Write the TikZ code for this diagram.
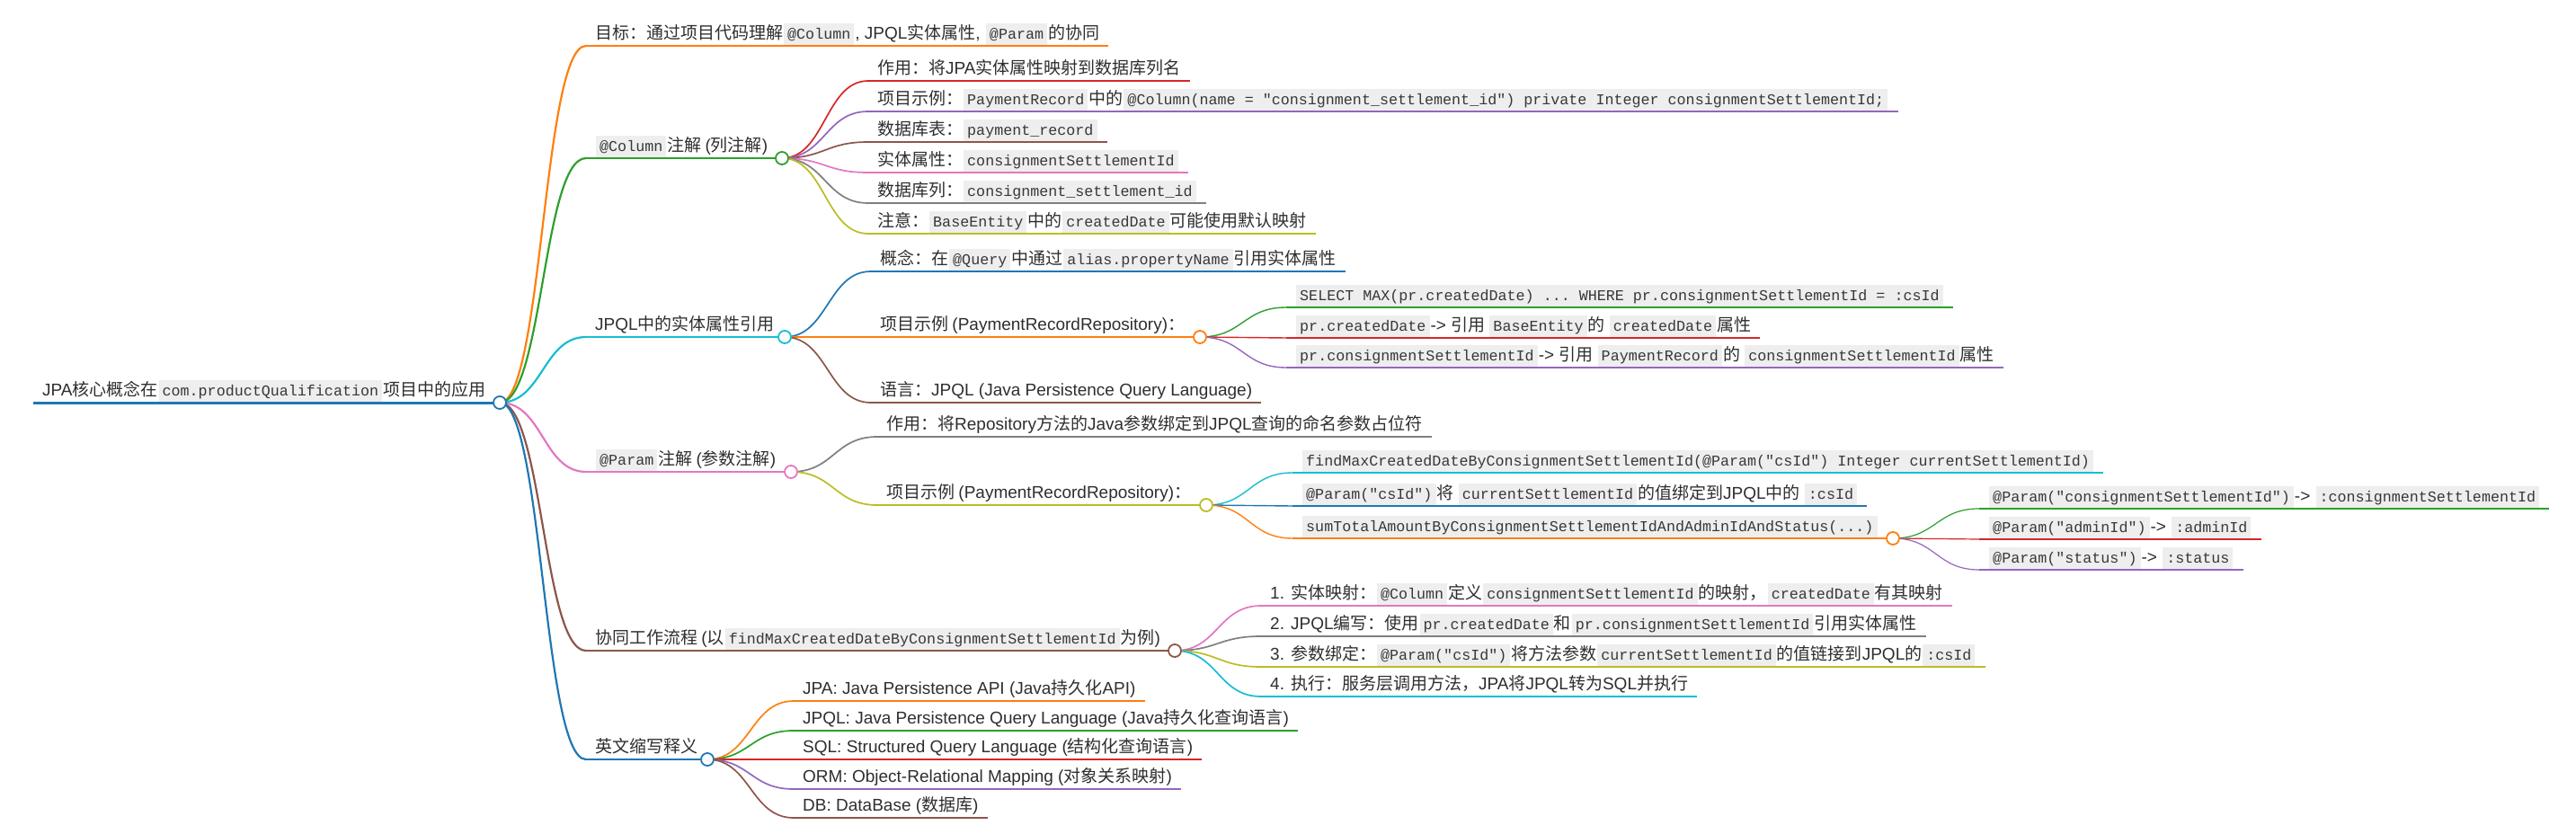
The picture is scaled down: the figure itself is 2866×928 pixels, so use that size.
\documentclass[tikz,border=0pt]{standalone}
\usepackage{fontspec}
\setmainfont{Liberation Sans}
\setmonofont{Liberation Mono}
\newfontfamily\cjk{Noto Sans CJK SC}
\usetikzlibrary{calc}

\definecolor{mBlue}{HTML}{1F77B4}
\definecolor{mOrange}{HTML}{FF7F0E}
\definecolor{mGreen}{HTML}{2CA02C}
\definecolor{mRed}{HTML}{D62728}
\definecolor{mPurple}{HTML}{9467BD}
\definecolor{mBrown}{HTML}{8C564B}
\definecolor{mPink}{HTML}{E377C2}
\definecolor{mGray}{HTML}{7F7F7F}
\definecolor{mOlive}{HTML}{BCBD22}
\definecolor{mCyan}{HTML}{17BECF}
\definecolor{textc}{HTML}{2E2E2E}
\definecolor{codebg}{HTML}{EEEEEE}
\definecolor{codefg}{HTML}{383838}

% chinese runs switch to the CJK font by themselves
\newXeTeXintercharclass\zhclass
\newcount\zhc
\def\zhrange#1#2{\zhc=#1\relax\loop\XeTeXcharclass\zhc=\zhclass\ifnum\zhc<#2\relax\advance\zhc by 1\repeat}
\zhrange{"3000}{"303F}
\zhrange{"4E00}{"9FFF}
\zhrange{"FF00}{"FFEF}
\XeTeXinterchartoks 0 \zhclass = {\cjk}
\XeTeXinterchartoks 4095 \zhclass = {\cjk}
\XeTeXinterchartoks \zhclass 0 = {\rmfamily}
\XeTeXinterchartoks 4095 0 = {\rmfamily}
\XeTeXinterchartokenstate=1

\newcommand\cd[1]{\kern1pt{\XeTeXinterchartokenstate=0\relax\setlength{\fboxsep}{4pt}\colorbox{codebg}{\ttfamily\fontsize{16.7}{20}\selectfont\color{codefg}\rule[-2pt]{0pt}{16pt}#1}}\kern1pt}

\tikzset{topic/.style={anchor=south west,inner xsep=10pt,inner ysep=0pt,text depth=7pt,text=textc,font=\fontsize{19}{23}\selectfont}}
\tikzset{dot/.style={circle,fill=white,line width=1.8pt,minimum size=14pt,inner sep=0pt}}
\tikzset{lv0/.style={line width=3pt},lv1/.style={line width=2.2pt},lv2/.style={line width=1.7pt},lv3/.style={line width=1.4pt},lv4/.style={line width=1.2pt}}
\tikzset{link/.style={to path={let \p1=(\tikztostart),\p2=(\tikztotarget) in .. controls ({(\x1+\x2)/2},\y1) and ({(\x1+\x2)/2},\y2) .. (\tikztotarget)}}}

\begin{document}
\begin{tikzpicture}[x=1pt,y=1pt]
\useasboundingbox (0,0) rectangle (2866,-928);

% branch points
\coordinate (cRoot) at (556,-448);
\coordinate (cCol) at (870,-176);
\coordinate (cJpql) at (873,-375);
\coordinate (cJex) at (1335,-375);
\coordinate (cParam) at (880,-525);
\coordinate (cPex) at (1342,-562);
\coordinate (cSum) at (2106,-599);
\coordinate (cFlow) at (1307,-724);
\coordinate (cAbbr) at (787,-845);

% root and first level
\node[topic] (root) at (37,-448) {JPA核心概念在\cd{com.productQualification}项目中的应用};
\node[topic] (goal) at (652,-51) {目标：通过项目代码理解\cd{@Column}, JPQL实体属性, \cd{@Param}的协同};
\node[topic] (col) at (652,-176) {\cd{@Column} 注解 (列注解)};
\node[topic] (jpql) at (652,-375) {JPQL中的实体属性引用};
\node[topic] (param) at (652,-525) {\cd{@Param} 注解 (参数注解)};
\node[topic] (flow) at (652,-724) {协同工作流程 (以\cd{findMaxCreatedDateByConsignmentSettlementId}为例)};
\node[topic] (abbr) at (652,-845) {英文缩写释义};

% @Column
\node[topic] (c1) at (966,-90) {作用：将JPA实体属性映射到数据库列名};
\node[topic] (c2) at (966,-124) {项目示例：\cd{PaymentRecord}中的\cd{@Column(name = "consignment\_settlement\_id") private Integer consignmentSettlementId;}};
\node[topic] (c3) at (966,-158) {数据库表：\cd{payment\_record}};
\node[topic] (c4) at (966,-192) {实体属性：\cd{consignmentSettlementId}};
\node[topic] (c5) at (966,-226) {数据库列：\cd{consignment\_settlement\_id}};
\node[topic] (c6) at (966,-260) {注意：\cd{BaseEntity}中的\cd{createdDate}可能使用默认映射};

% JPQL
\node[topic] (j1) at (969,-302) {概念：在\cd{@Query}中通过\cd{alias.propertyName}引用实体属性};
\node[topic] (jex) at (969,-375) {项目示例 (PaymentRecordRepository)：};
\node[topic] (j3) at (969,-448) {语言：JPQL (Java Persistence Query Language)};
\node[topic] (j21) at (1431,-342) {\cd{SELECT MAX(pr.createdDate) ... WHERE pr.consignmentSettlementId = :csId}};
\node[topic] (j22) at (1431,-376) {\cd{pr.createdDate} -> 引用 \cd{BaseEntity} 的 \cd{createdDate} 属性};
\node[topic] (j23) at (1431,-409) {\cd{pr.consignmentSettlementId} -> 引用 \cd{PaymentRecord} 的 \cd{consignmentSettlementId} 属性};

% @Param
\node[topic] (p1) at (976,-486) {作用：将Repository方法的Java参数绑定到JPQL查询的命名参数占位符};
\node[topic] (pex) at (976,-562) {项目示例 (PaymentRecordRepository)：};
\node[topic] (p21) at (1438,-526) {\cd{findMaxCreatedDateByConsignmentSettlementId(@Param("csId") Integer currentSettlementId)}};
\node[topic] (p22) at (1438,-563) {\cd{@Param("csId")} 将 \cd{currentSettlementId} 的值绑定到JPQL中的 \cd{:csId}};
\node[topic] (sum) at (1438,-599) {\cd{sumTotalAmountByConsignmentSettlementIdAndAdminIdAndStatus(...)}};
\node[topic] (s1) at (2202,-566) {\cd{@Param("consignmentSettlementId")} -> \cd{:consignmentSettlementId}};
\node[topic] (s2) at (2202,-600) {\cd{@Param("adminId")} -> \cd{:adminId}};
\node[topic] (s3) at (2202,-634) {\cd{@Param("status")} -> \cd{:status}};

% workflow
\node[topic] (f1) at (1403,-674) {1. 实体映射：\cd{@Column}定义\cd{consignmentSettlementId}的映射，\cd{createdDate}有其映射};
\node[topic] (f2) at (1403,-708) {2. JPQL编写：使用\cd{pr.createdDate}和\cd{pr.consignmentSettlementId}引用实体属性};
\node[topic] (f3) at (1403,-742) {3. 参数绑定：\cd{@Param("csId")}将方法参数\cd{currentSettlementId}的值链接到JPQL的\cd{:csId}};
\node[topic] (f4) at (1403,-775) {4. 执行：服务层调用方法，JPA将JPQL转为SQL并执行};

% abbreviations
\node[topic] (a1) at (883,-780) {JPA: Java Persistence API (Java持久化API)};
\node[topic] (a2) at (883,-813) {JPQL: Java Persistence Query Language (Java持久化查询语言)};
\node[topic] (a3) at (883,-845) {SQL: Structured Query Language (结构化查询语言)};
\node[topic] (a4) at (883,-878) {ORM: Object-Relational Mapping (对象关系映射)};
\node[topic] (a5) at (883,-910) {DB: DataBase (数据库)};

% underlines of branching topics run to their dot
\foreach \nd/\cc/\cl/\lw in {root/cRoot/mBlue/lv0, col/cCol/mGreen/lv1, jpql/cJpql/mCyan/lv1,
    jex/cJex/mOrange/lv2, param/cParam/mPink/lv1, pex/cPex/mOlive/lv2, sum/cSum/mOrange/lv3,
    flow/cFlow/mBrown/lv1, abbr/cAbbr/mBlue/lv1}
  \draw[\cl,\lw] (\nd.south west) -- (\cc);

% underlines of leaves
\foreach \nd/\cl/\lw in {goal/mOrange/lv1, c1/mRed/lv2, c2/mPurple/lv2, c3/mBrown/lv2, c4/mPink/lv2,
    c5/mGray/lv2, c6/mOlive/lv2, j1/mBlue/lv2, j3/mBrown/lv2, j21/mGreen/lv3, j22/mRed/lv3,
    j23/mPurple/lv3, p1/mGray/lv2, p21/mCyan/lv3, p22/mBlue/lv3, s1/mGreen/lv4, s2/mRed/lv4,
    s3/mPurple/lv4, f1/mPink/lv2, f2/mGray/lv2, f3/mOlive/lv2, f4/mCyan/lv2,
    a1/mOrange/lv2, a2/mGreen/lv2, a3/mRed/lv2, a4/mPurple/lv2, a5/mBrown/lv2}
  \draw[\cl,\lw] (\nd.south west) -- (\nd.south east);

% links
\foreach \pa/\nd/\cl/\lw in {cRoot/goal/mOrange/lv1, cRoot/col/mGreen/lv1, cRoot/jpql/mCyan/lv1,
    cRoot/param/mPink/lv1, cRoot/flow/mBrown/lv1, cRoot/abbr/mBlue/lv1,
    cCol/c1/mRed/lv2, cCol/c2/mPurple/lv2, cCol/c3/mBrown/lv2, cCol/c4/mPink/lv2,
    cCol/c5/mGray/lv2, cCol/c6/mOlive/lv2,
    cJpql/j1/mBlue/lv2, cJpql/jex/mOrange/lv2, cJpql/j3/mBrown/lv2,
    cJex/j21/mGreen/lv3, cJex/j22/mRed/lv3, cJex/j23/mPurple/lv3,
    cParam/p1/mGray/lv2, cParam/pex/mOlive/lv2,
    cPex/p21/mCyan/lv3, cPex/p22/mBlue/lv3, cPex/sum/mOrange/lv3,
    cSum/s1/mGreen/lv4, cSum/s2/mRed/lv4, cSum/s3/mPurple/lv4,
    cFlow/f1/mPink/lv2, cFlow/f2/mGray/lv2, cFlow/f3/mOlive/lv2, cFlow/f4/mCyan/lv2,
    cAbbr/a1/mOrange/lv2, cAbbr/a2/mGreen/lv2, cAbbr/a3/mRed/lv2, cAbbr/a4/mPurple/lv2,
    cAbbr/a5/mBrown/lv2}
  \draw[link,\cl,\lw] (\pa) to (\nd.south west);

% dots on top
\foreach \cc/\cl in {cRoot/mBlue, cCol/mGreen, cJpql/mCyan, cJex/mOrange, cParam/mPink,
    cPex/mOlive, cSum/mOrange, cFlow/mBrown, cAbbr/mBlue}
  \node[dot,draw=\cl] (d\cc) at (\cc) {};

\end{tikzpicture}
\end{document}
